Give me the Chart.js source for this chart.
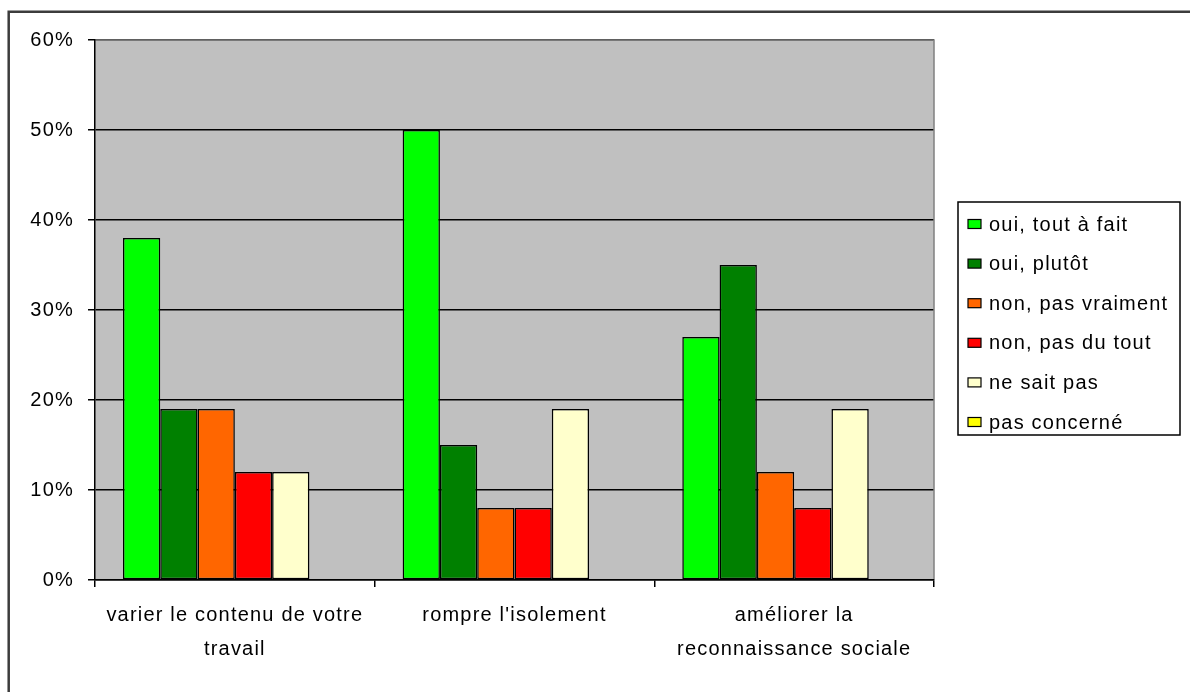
<!DOCTYPE html>
<html>
<head>
<meta charset="utf-8">
<script src="https://cdn.jsdelivr.net/npm/chart.js@4/dist/chart.umd.min.js"></script>
<style>
  html, body { margin: 0; padding: 0; background: #fff; overflow: hidden; }
  canvas { display: block; }
</style>
</head>
<body>
<canvas id="chart" width="1190" height="692"></canvas>
<script>
// Categories (multi-line labels) and answer series, values in %
const categories = [
  ["varier le contenu de votre", "travail"],
  ["rompre l'isolement"],
  ["améliorer la", "reconnaissance sociale"]
];
const seriesNames = ["oui, tout à fait", "oui, plutôt", "non, pas vraiment", "non, pas du tout", "ne sait pas", "pas concerné"];
const ouiToutAFait   = [38, 50, 27];
const ouiPlutot      = [19, 15, 35];
const nonPasVraiment = [19, 8, 12];
const nonPasDuTout   = [12, 8, 8];
const neSaitPas      = [12, 19, 19];
const pasConcerne    = [0, 0, 0];
const yTickValues    = [0, 10, 20, 30, 40, 50, 60];

const seriesValues = [ouiToutAFait, ouiPlutot, nonPasVraiment, nonPasDuTout, neSaitPas, pasConcerne];
const seriesColors = ["#00FF00", "#008000", "#FF6600", "#FF0000", "#FFFFCC", "#FFFF00"];

const FONT = { family: "'Liberation Sans', Arial, sans-serif", size: 20 };
const FONT_CSS = "20px 'Liberation Sans', Arial, sans-serif";
const LETTER_SPACING = "1.2px";

Chart.defaults.color = "#000";
Chart.defaults.font.family = FONT.family;
Chart.defaults.font.size = FONT.size;

// Wide letter spacing for every text on the canvas
const spacingPlugin = {
  id: "spacing",
  beforeUpdate(chart) { chart.ctx.letterSpacing = LETTER_SPACING; },
  beforeDraw(chart) { chart.ctx.letterSpacing = LETTER_SPACING; }
};

// White page, outer frame and grey plot background
const framePlugin = {
  id: "frame",
  beforeDraw(chart) {
    const { ctx, chartArea: a } = chart;
    ctx.save();
    ctx.fillStyle = "#fff";
    ctx.fillRect(0, 0, chart.width, chart.height);
    ctx.strokeStyle = "#3c3c3c";
    ctx.lineWidth = 2.5;
    ctx.beginPath();
    ctx.moveTo(8.7, chart.height + 2);
    ctx.lineTo(8.7, 11.7);
    ctx.lineTo(chart.width + 2, 11.7);
    ctx.stroke();
    ctx.fillStyle = "#C0C0C0";
    ctx.fillRect(a.left, a.top, a.right - a.left, a.bottom - a.top);
    ctx.restore();
  },
  afterDraw(chart) {
    const { ctx, chartArea: a } = chart;
    ctx.save();
    ctx.strokeStyle = "#808080";
    ctx.lineWidth = 1.5;
    ctx.beginPath();
    ctx.moveTo(a.left + 1, a.top);
    ctx.lineTo(a.right, a.top);
    ctx.lineTo(a.right, a.bottom - 1);
    ctx.stroke();
    ctx.restore();
  }
};

// Boxed legend on the right
const boxLegendPlugin = {
  id: "boxLegend",
  afterDraw(chart) {
    const { ctx } = chart;
    const box = { x: 958, y: 202, w: 222, h: 233 };
    ctx.save();
    ctx.letterSpacing = LETTER_SPACING;
    ctx.strokeStyle = "#000";
    ctx.lineWidth = 1.5;
    ctx.strokeRect(box.x, box.y, box.w, box.h);
    ctx.font = FONT_CSS;
    ctx.textBaseline = "middle";
    ctx.textAlign = "left";
    chart.data.datasets.forEach((ds, i) => {
      const cy = 224 + i * 39.6;
      ctx.fillStyle = ds.backgroundColor;
      ctx.fillRect(968, cy - 4.5, 13, 9);
      ctx.lineWidth = 1.2;
      ctx.strokeStyle = "#000";
      ctx.strokeRect(968, cy - 4.5, 13, 9);
      ctx.fillStyle = "#000";
      ctx.fillText(ds.label, 989, cy + 1);
    });
    ctx.restore();
  }
};

new Chart(document.getElementById("chart"), {
  type: "bar",
  data: {
    labels: categories,
    datasets: seriesNames.map((name, i) => ({
      label: name,
      data: seriesValues[i],
      backgroundColor: seriesColors[i],
      borderColor: "#000",
      borderWidth: 1.5,
      borderSkipped: false,
      categoryPercentage: 0.8,
      barPercentage: 1.0
    }))
  },
  options: {
    responsive: false,
    animation: false,
    devicePixelRatio: 1,
    layout: { padding: { left: 0, right: 256, top: 40, bottom: 0 } },
    plugins: {
      legend: { display: false },
      tooltip: { enabled: false }
    },
    scales: {
      x: {
        offset: true,
        grid: {
          offset: true,
          drawOnChartArea: false,
          drawTicks: true,
          tickLength: 7,
          color: "#000",
          lineWidth: 1.5
        },
        border: { color: "#000", width: 1.5 },
        ticks: {
          font: { ...FONT, lineHeight: 1.68 },
          padding: 12,
          maxRotation: 0,
          autoSkip: false
        },
        afterFit(scale) { scale.height = 692 - 580; }
      },
      y: {
        min: 0,
        max: 60,
        afterBuildTicks(scale) { scale.ticks = yTickValues.map(v => ({ value: v })); },
        grid: {
          color: "#000",
          lineWidth: 1.5,
          drawTicks: true,
          tickLength: 7
        },
        border: { color: "#000", width: 1.5 },
        ticks: {
          font: FONT,
          padding: 14,
          callback: v => v + "%"
        },
        afterFit(scale) { scale.width = 95; }
      }
    }
  },
  plugins: [spacingPlugin, framePlugin, boxLegendPlugin]
});
</script>
</body>
</html>
